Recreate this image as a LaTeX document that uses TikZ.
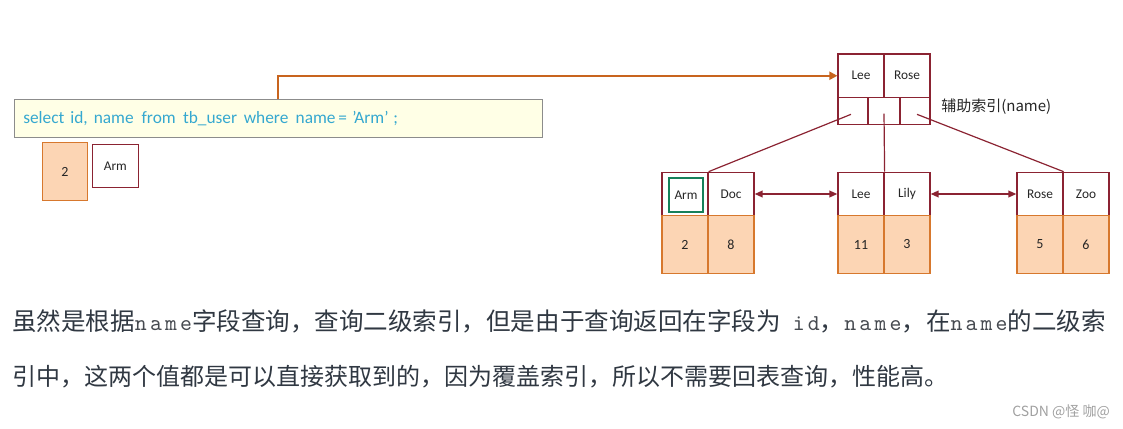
\documentclass[tikz,border=0pt]{standalone}
\usepackage{fontspec}
\usetikzlibrary{arrows.meta}
\newfontfamily\cjk{Noto Sans CJK SC}
\newfontfamily\carl{Carlito}
\newfontfamily\monof[LetterSpace=14]{lmmono10-regular.otf}
\definecolor{dred}{RGB}{139,35,50}
\definecolor{orbd}{RGB}{215,120,45}
\definecolor{orln}{RGB}{200,100,30}
\definecolor{peach}{RGB}{252,213,180}
\definecolor{grn}{RGB}{23,128,90}
\definecolor{sqlbg}{RGB}{255,255,230}
\definecolor{sqlbd}{RGB}{140,140,140}
\definecolor{sqltx}{RGB}{53,168,208}
\definecolor{txt}{RGB}{48,56,66}
\definecolor{monotx}{RGB}{70,74,80}
\definecolor{lbl}{RGB}{38,38,38}
\definecolor{wm}{RGB}{160,160,160}
\newcommand{\mono}[1]{{\monof\fontsize{17pt}{20pt}\selectfont\color{monotx}#1}}
\begin{document}
\begin{tikzpicture}[x=0.75pt,y=-0.75pt,
  keycell/.style={draw=dred,fill=white,line width=0.9pt,inner sep=0pt,
    minimum width=34.5pt,minimum height=32.6pt,font=\carl\fontsize{10pt}{12pt}\selectfont,text=lbl},
  ptrcell/.style={draw=dred,fill=white,line width=0.9pt,inner sep=0pt,minimum height=20.25pt},
  valcell/.style={draw=orbd,fill=peach,line width=0.9pt,inner sep=0pt,
    minimum width=34.5pt,minimum height=43.1pt,font=\carl\fontsize{10.5pt}{12pt}\selectfont,text=lbl},
  link/.style={draw=dred,line width=0.9pt},
  sibling/.style={draw=dred,line width=1.1pt,{Triangle[length=6pt,width=5pt]}-{Triangle[length=6pt,width=5pt]}},
  lookup/.style={draw=orln,line width=1.6pt,-{Triangle[length=6pt,width=6pt]}},
  para/.style={anchor=base west,inner sep=0pt,text=txt,font=\cjk\fontsize{18pt}{20pt}\selectfont}
]
\useasboundingbox (0,0) rectangle (1123,428);
% root
\node[keycell] (r1) at (861,75.75) {Lee};
\node[keycell] (r2) at (907,75.75) {Rose};
\node[ptrcell,minimum width=22.5pt] (rb1) at (853,111) {};
\node[ptrcell,minimum width=24pt] (rb2) at (884,111) {};
\node[ptrcell,minimum width=22.5pt] (rb3) at (915,111) {};
\node[anchor=west,inner sep=0pt,text=lbl,font=\cjk\fontsize{11.25pt}{13pt}\selectfont] (idxlabel) at (941,107) {辅助索引(name)};
% leaves
\node[keycell] (l1a) at (685,194) {};
\node[draw=grn,line width=1.6pt,minimum width=25pt,minimum height=25pt,inner sep=0pt,
  font=\carl\fontsize{10pt}{12pt}\selectfont,text=lbl] (arm) at (686,195) {Arm};
\node[keycell] (l1b) at (731,194) {Doc};
\node[valcell] (v1a) at (685,244.5) {2};
\node[valcell] (v1b) at (731,244.5) {8};
\node[keycell] (l2a) at (861,194) {Lee};
\node[keycell] (l2b) at (907,194) {Lily};
\node[valcell] (v2a) at (861,244.5) {11};
\node[valcell] (v2b) at (907,244.5) {3};
\node[keycell] (l3a) at (1040,194) {Rose};
\node[keycell] (l3b) at (1086,194) {Zoo};
\node[valcell] (v3a) at (1040,244.5) {5};
\node[valcell] (v3b) at (1086,244.5) {6};
% links
\draw[link] ([yshift=-2.5pt,xshift=-1.5pt]rb1.center) -- (l1a.north east);
\draw[link] ([yshift=-2pt]rb2.center) -- (l2a.north east);
\draw[link] ([yshift=-2.5pt,xshift=1.5pt]rb3.center) -- (l3a.north east);
\draw[sibling] (l1b.east) -- (l2a.west);
\draw[sibling] (l2b.east) -- (l3a.west);
% sql
\node[draw=sqlbd,fill=sqlbg,line width=0.8pt,minimum width=396.3pt,minimum height=28.3pt,inner sep=0pt] (sql) at (278.5,118.2) {};
\node[anchor=west,inner sep=0pt,text=sqltx,font=\carl\fontsize{13pt}{15pt}\selectfont] (sqltext) at (23,119)
  {select\hspace{4.5pt}id,\hspace{4.5pt}name\hspace{6pt}from\hspace{5.5pt}tb\_user\hspace{5pt}where\hspace{5.5pt}name\hspace{2pt}=\hspace{4pt}’Arm’\hspace{3.5pt};};
\coordinate (s) at (278,99.3);
\draw[lookup] (s) |- (r1.west);
% result row
\node[valcell,minimum width=34pt,minimum height=43.8pt] (resid) at (65,171.5) {2};
\node[keycell,minimum height=32.5pt] (resname) at (115.3,166) {Arm};
% paragraph
\node[para,font=\cjk\fontsize{18.4pt}{20pt}\selectfont] (line1) at (12,330) {虽然是根据\mono{name}字段查询，查询二级索引，但是由于查询返回在字段为\hspace{9pt}\mono{id}，\mono{name}，在\mono{name}的二级索};
\node[para] (line2) at (12,385) {引中，这两个值都是可以直接获取到的，因为覆盖索引，所以不需要回表查询，性能高。};
\node[anchor=east,inner sep=0pt,text=wm,font=\cjk\fontsize{10.5pt}{12pt}\selectfont] (mark) at (1110,412) {CSDN @怪 咖@};
\end{tikzpicture}
\end{document}
